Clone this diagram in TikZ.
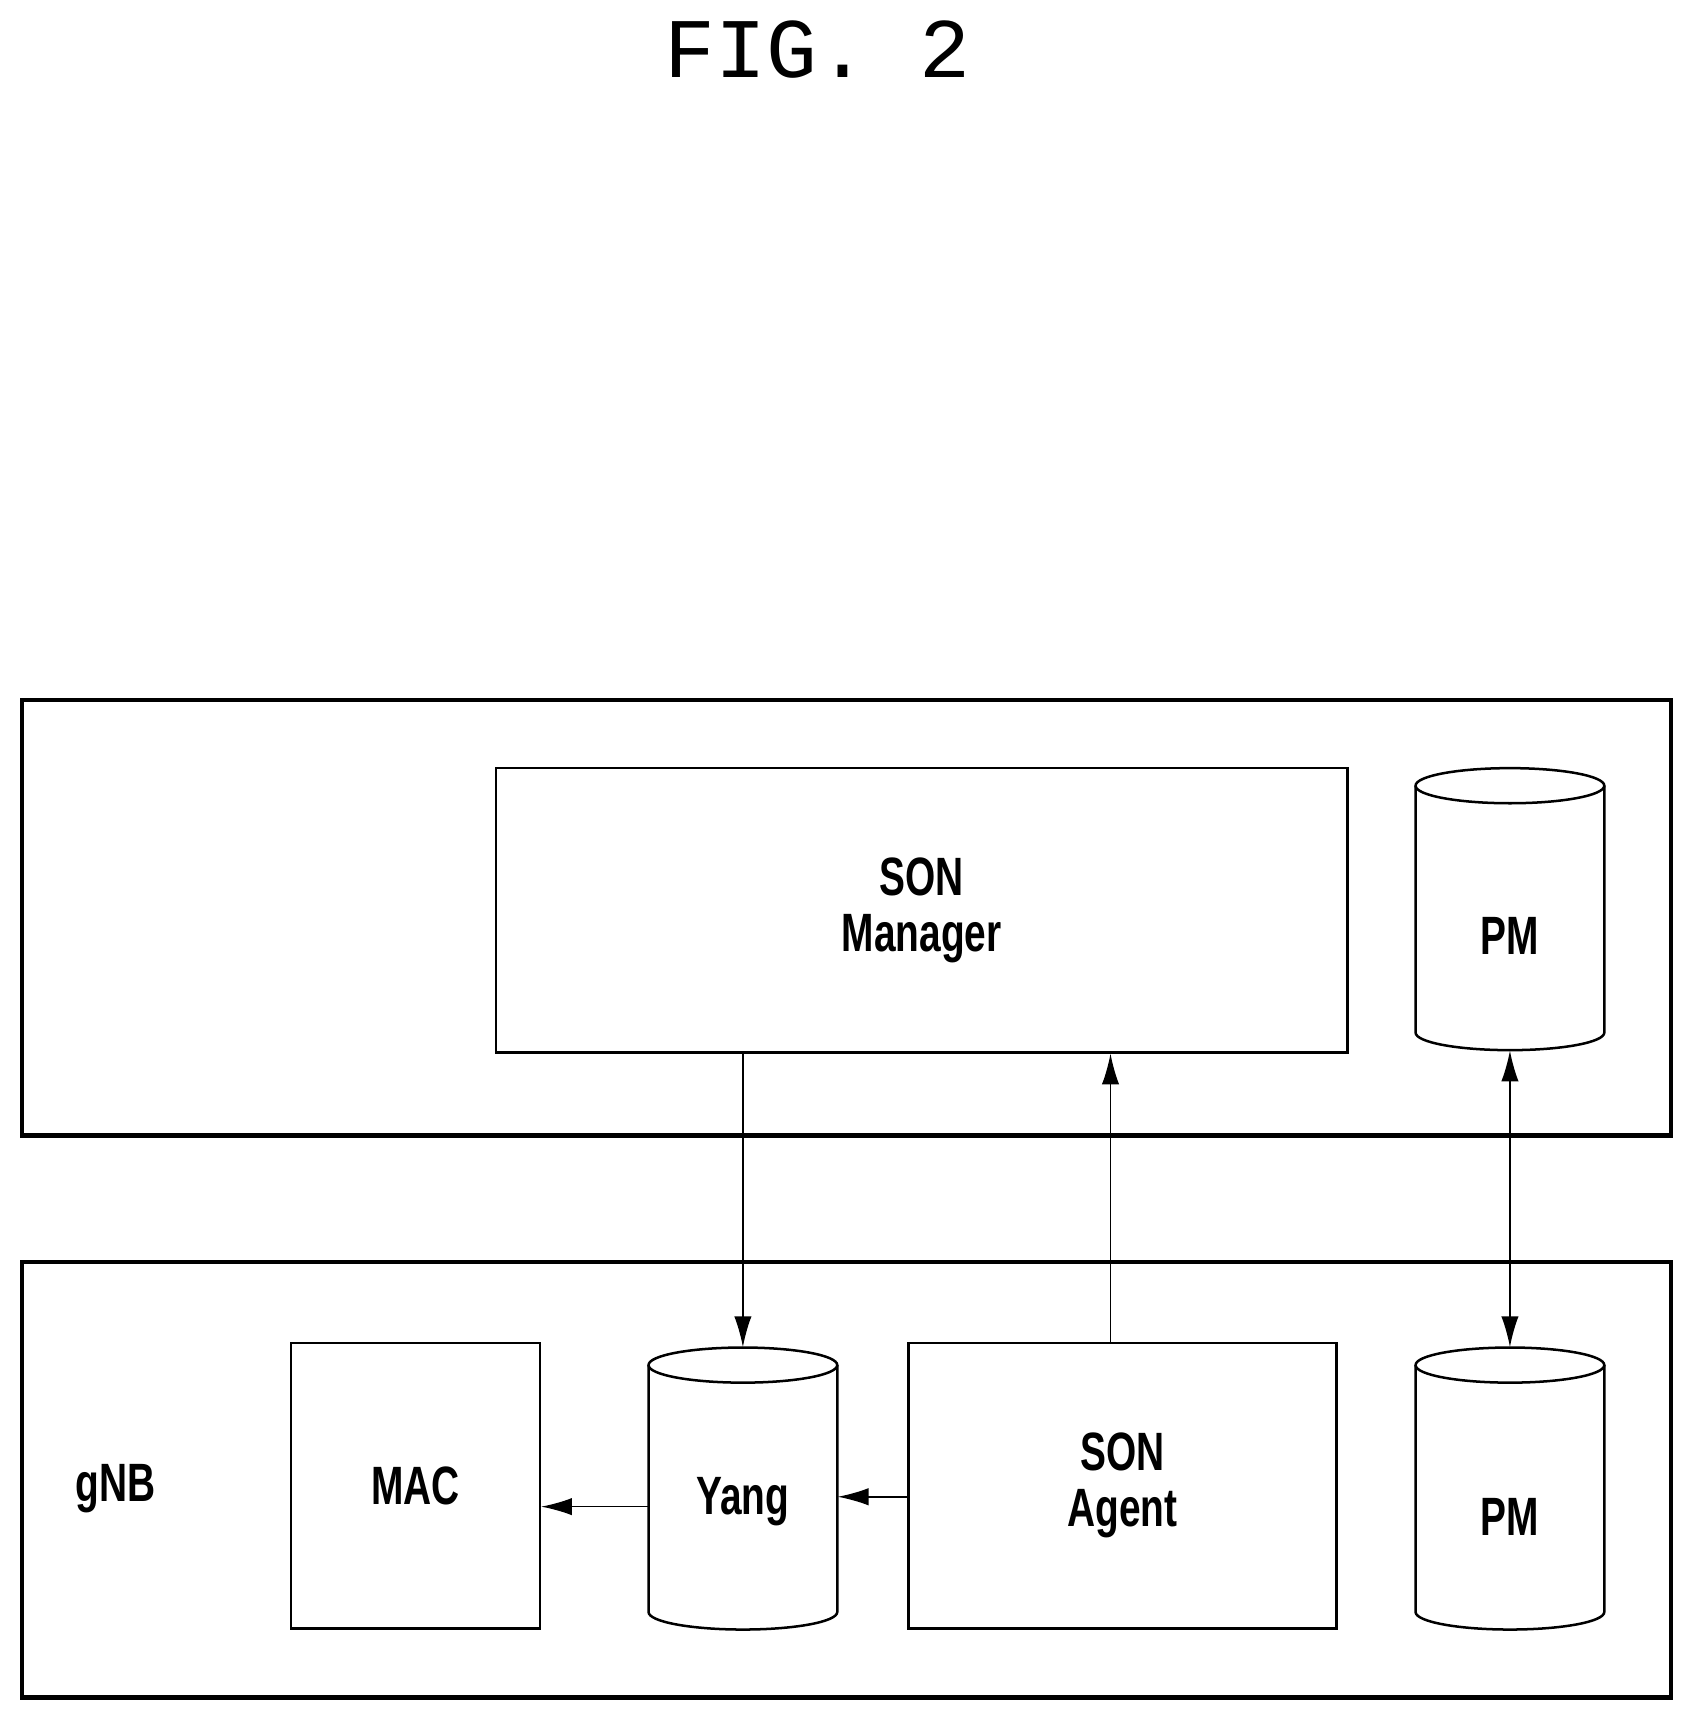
\documentclass[tikz,border=0pt]{standalone}
\usepackage{fontspec}
\setmainfont{Liberation Sans}
\newfontfamily\titlefont{Liberation Mono}
\usetikzlibrary{arrows.meta}
\begin{document}
\begin{tikzpicture}[x=0.02cm,y=-0.02cm,
  outer/.style={draw,line width=2.4pt},
  inner/.style={draw,line width=1.3pt},
  lbl/.style={font=\fontsize{28}{31}\selectfont\bfseries,align=center},
  arr/.style={line width=0.8pt,-{Latex[length=16pt,width=9pt]}},
  darr/.style={line width=0.8pt,{Latex[length=16pt,width=9pt]}-{Latex[length=16pt,width=9pt]}}]
\useasboundingbox (0,0) rectangle (1548,1572);
\newcommand{\cyl}[5]{% name, x1, x2, ytop, ybot
  \node[inner sep=0,minimum width={(#3-#2)*0.02cm},minimum height={(#5-#4)*0.02cm}] (#1) at ({(#2+#3)/2},{(#4+#5)/2}) {};
  \draw[line width=1.3pt] ({(#2+#3)/2},{#4+16}) ellipse ({(#3-#2)/2} and 16);
  \draw[line width=1.3pt] (#2,{#4+16}) -- (#2,{#5-16}) arc[start angle=180,end angle=0,x radius={(#3-#2)/2},y radius=16] -- (#3,{#4+16});
}
\node[font=\titlefont\fontsize{44}{50}\selectfont] (title) at (745,45) {FIG. 2};
\node[outer,minimum width=30.06cm,minimum height=7.94cm] (top) at (771.5,836.5) {};
\node[outer,minimum width=30.06cm,minimum height=7.94cm] (bot) at (771.5,1348.5) {};
\node[inner,minimum width=15.52cm,minimum height=5.18cm] (son) at (840,829.5) {};
\node[lbl] at (son) {\scalebox{0.72}[1]{SON}\\[-2pt]\scalebox{0.72}[1]{Manager}};
\cyl{pmt}{1290}{1462}{700}{957}
\node[lbl] at (1376,853) {\scalebox{0.72}[1]{PM}};
\node[inner,minimum width=4.54cm,minimum height=5.2cm] (mac) at (378.5,1354) {};
\node[lbl] at (mac) {\scalebox{0.72}[1]{MAC}};
\cyl{yang}{591}{763}{1228}{1485}
\node[lbl] at (677,1368) {\scalebox{0.72}[1]{Yang}};
\node[inner,minimum width=7.8cm,minimum height=5.2cm] (agent) at (1023,1354) {};
\node[lbl] at (agent) {\scalebox{0.72}[1]{SON}\\[-2pt]\scalebox{0.72}[1]{Agent}};
\cyl{pmb}{1290}{1462}{1228}{1485}
\node[lbl] at (1376,1382) {\scalebox{0.72}[1]{PM}};
\node[lbl] (gnb) at (105,1357) {\scalebox{0.72}[1]{gNB}};
\draw[arr] (son.south -| yang.north) -- (yang.north);
\draw[arr] (agent.north -| 1012,0) -- (son.south -| 1012,0);
\draw[darr] (pmt.south) -- (pmb.north);
\draw[arr] (yang.west |- 0,1373) -- (mac.east |- 0,1373);
\draw[arr] (agent.west |- 0,1364) -- (yang.east |- 0,1364);
\end{tikzpicture}
\end{document}
